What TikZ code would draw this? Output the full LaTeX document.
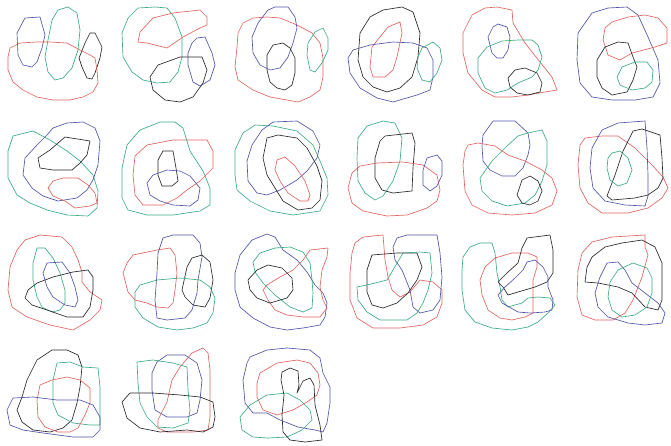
\documentclass[tikz,border=0pt]{standalone}
\definecolor{cred}{RGB}{225,100,95}
\definecolor{cgreen}{RGB}{60,172,128}
\definecolor{cblue}{RGB}{80,85,168}
\definecolor{cblack}{RGB}{40,40,45}
\tikzset{
  loop/.style={line width=0.65pt,line join=round},
  redloop/.style={loop,draw=cred},
  greenloop/.style={loop,draw=cgreen},
  blueloop/.style={loop,draw=cblue},
  blackloop/.style={loop,draw=cblack}
}
\begin{document}
\begin{tikzpicture}[x=1pt,y=-1pt]
\useasboundingbox[fill=white] (0,0) rectangle (671,445);
% ---- Panel 1
\draw[blueloop] (25,18)--(40,17)--(45,35)--(42,48)--(37,62)--(32,67)--(23,65)--(18,55)--(17,33)--cycle;
\draw[greenloop] (58,10)--(68,7)--(77,13)--(80,30)--(78,50)--(72,68)--(63,78)--(55,80)--(48,72)--(45,57)--(48,40)--(52,20)--cycle;
\draw[blackloop] (90,33)--(95,33)--(102,47)--(100,58)--(95,73)--(92,79)--(87,78)--(82,67)--(79,58)--(85,43)--cycle;
\draw[redloop] (10,48)--(20,43)--(37,42)--(50,42)--(67,43)--(80,50)--(90,55)--(95,58)--(97,70)--(98,83)--(93,92)--(83,97)--(70,100)--(53,100)--(37,97)--(23,90)--(13,82)--(8,70)--(8,57)--cycle;
% ---- Panel 2
\draw[greenloop] (138,8)--(155,7)--(167,8)--(175,18)--(182,37)--(182,57)--(178,72)--(170,82)--(157,83)--(143,80)--(132,72)--(123,57)--(122,33)--(128,18)--cycle;
\draw[redloop] (153,18)--(173,13)--(200,10)--(207,17)--(207,25)--(200,28)--(183,37)--(167,48)--(147,43)--(138,42)--(140,32)--cycle;
\draw[blueloop] (197,38)--(205,37)--(212,53)--(215,65)--(210,80)--(200,86)--(193,82)--(188,65)--(188,53)--(192,43)--cycle;
\draw[blackloop] (158,65)--(180,57)--(202,57)--(207,70)--(203,83)--(193,97)--(180,102)--(165,100)--(153,90)--(150,77)--cycle;
% ---- Panel 3
\draw[redloop] (243,23)--(253,18)--(267,17)--(280,18)--(297,25)--(312,33)--(320,43)--(323,58)--(323,77)--(320,90)--(310,97)--(298,102)--(287,100)--(270,97)--(253,90)--(238,80)--(235,67)--(237,47)--(238,33)--cycle;
\draw[blueloop] (268,10)--(275,7)--(288,7)--(295,17)--(297,28)--(293,43)--(288,57)--(280,68)--(270,70)--(260,65)--(253,53)--(252,37)--(258,23)--cycle;
\draw[blackloop] (273,45)--(283,43)--(290,48)--(295,58)--(295,73)--(292,85)--(285,90)--(277,88)--(270,82)--(267,70)--(267,55)--cycle;
\draw[greenloop] (315,32)--(323,28)--(328,38)--(328,50)--(322,63)--(315,72)--(310,70)--(307,55)--(308,43)--cycle;
% ---- Panel 4
\draw[blackloop] (370,17)--(383,10)--(402,7)--(413,12)--(420,33)--(418,57)--(412,77)--(400,88)--(387,92)--(373,87)--(363,77)--(358,60)--(360,33)--cycle;
\draw[redloop] (388,27)--(400,22)--(402,33)--(397,57)--(393,70)--(385,77)--(373,77)--(370,67)--(372,47)--(380,37)--cycle;
\draw[blueloop] (353,50)--(370,45)--(393,42)--(413,43)--(427,48)--(433,60)--(433,77)--(430,90)--(417,95)--(393,102)--(377,98)--(360,88)--(350,73)--(348,58)--cycle;
\draw[greenloop] (422,48)--(433,42)--(440,48)--(442,60)--(437,73)--(430,82)--(422,80)--(417,68)--(418,57)--cycle;
% ---- Panel 5
\draw[redloop] (472,15)--(485,8)--(497,7)--(512,10)--(513,23)--(525,43)--(540,62)--(552,77)--(557,90)--(545,92)--(528,95)--(512,97)--(495,97)--(482,90)--(468,73)--(463,53)--(463,33)--cycle;
\draw[blueloop] (493,27)--(498,24)--(507,27)--(510,37)--(508,50)--(503,58)--(497,58)--(492,53)--(488,37)--cycle;
\draw[greenloop] (487,47)--(502,41)--(518,40)--(532,40)--(538,45)--(542,57)--(538,70)--(532,77)--(518,83)--(507,90)--(495,93)--(485,88)--(478,73)--(478,58)--cycle;
\draw[blackloop] (515,70)--(525,68)--(537,73)--(542,83)--(540,92)--(528,95)--(517,93)--(510,87)--(508,78)--cycle;
% ---- Panel 6
\draw[blueloop] (592,13)--(608,8)--(627,7)--(638,15)--(648,37)--(658,60)--(660,83)--(653,97)--(635,100)--(612,100)--(592,97)--(580,83)--(577,60)--(578,33)--cycle;
\draw[redloop] (612,22)--(628,17)--(645,15)--(658,18)--(667,28)--(667,43)--(655,47)--(632,53)--(620,60)--(608,55)--(603,40)--(605,28)--cycle;
\draw[blackloop] (605,47)--(618,42)--(628,43)--(633,57)--(637,67)--(633,80)--(627,92)--(612,95)--(602,88)--(597,77)--(597,60)--cycle;
\draw[greenloop] (622,67)--(635,62)--(647,62)--(653,70)--(652,82)--(645,88)--(632,90)--(620,85)--(617,77)--cycle;
% ---- Panel 7
\draw[greenloop] (13,136)--(33,131)--(50,140)--(67,151)--(80,161)--(93,175)--(98,191)--(97,208)--(88,216)--(67,215)--(47,210)--(30,203)--(17,195)--(8,178)--(8,151)--cycle;
\draw[blueloop] (53,128)--(67,123)--(83,122)--(95,128)--(100,141)--(98,165)--(93,180)--(87,190)--(77,198)--(58,201)--(43,196)--(32,188)--(23,175)--(25,158)--(37,145)--(47,135)--cycle;
\draw[blackloop] (65,137)--(90,141)--(87,155)--(80,163)--(72,170)--(53,170)--(40,168)--(38,158)--(50,150)--cycle;
\draw[redloop] (53,181)--(63,178)--(78,178)--(88,185)--(95,193)--(97,203)--(90,206)--(75,208)--(65,201)--(53,196)--(48,188)--cycle;
% ---- Panel 8
\draw[greenloop] (140,130)--(160,122)--(175,122)--(183,128)--(190,151)--(203,171)--(210,188)--(210,205)--(200,211)--(173,215)--(147,215)--(128,210)--(122,198)--(122,168)--(127,145)--cycle;
\draw[redloop] (147,145)--(173,140)--(207,140)--(213,151)--(213,168)--(200,181)--(187,190)--(177,198)--(163,205)--(143,205)--(135,195)--(133,175)--(135,156)--cycle;
\draw[blackloop] (163,151)--(173,151)--(176,168)--(178,181)--(172,186)--(162,186)--(158,175)--(158,160)--cycle;
\draw[blueloop] (153,175)--(167,170)--(180,171)--(190,176)--(200,188)--(198,200)--(190,206)--(173,205)--(160,201)--(150,195)--(147,183)--cycle;
% ---- Panel 9
\draw[greenloop] (243,133)--(255,125)--(273,126)--(297,131)--(313,145)--(320,161)--(327,178)--(328,195)--(320,211)--(293,215)--(270,211)--(250,201)--(237,190)--(235,175)--(235,150)--cycle;
\draw[blueloop] (262,130)--(273,122)--(297,121)--(313,131)--(320,145)--(317,158)--(307,171)--(297,180)--(280,190)--(267,195)--(257,193)--(248,181)--(247,161)--(252,145)--cycle;
\draw[blackloop] (267,138)--(278,135)--(297,138)--(307,148)--(317,166)--(322,181)--(320,200)--(312,208)--(298,210)--(283,201)--(275,188)--(267,175)--(263,158)--cycle;
\draw[redloop] (277,160)--(285,157)--(295,166)--(305,181)--(310,195)--(308,201)--(300,201)--(288,193)--(280,181)--(275,170)--cycle;
% ---- Panel 10
\draw[greenloop] (367,126)--(383,121)--(395,123)--(402,138)--(400,161)--(393,181)--(383,196)--(375,200)--(365,193)--(358,181)--(357,158)--(358,138)--cycle;
\draw[blackloop] (385,136)--(412,133)--(415,143)--(413,168)--(412,191)--(393,193)--(382,190)--(375,178)--(375,158)--(380,141)--cycle;
\draw[redloop] (360,166)--(377,163)--(403,162)--(423,165)--(437,175)--(440,190)--(437,201)--(427,208)--(407,215)--(387,216)--(363,211)--(352,203)--(348,188)--(352,173)--cycle;
\draw[blueloop] (427,158)--(437,155)--(442,161)--(442,175)--(437,186)--(430,191)--(423,185)--(423,170)--cycle;
% ---- Panel 11
\draw[blueloop] (493,121)--(515,121)--(528,133)--(530,145)--(528,155)--(523,168)--(515,176)--(502,176)--(490,170)--(483,161)--(482,146)--(483,135)--cycle;
\draw[greenloop] (528,133)--(542,130)--(547,141)--(547,165)--(542,181)--(535,195)--(525,203)--(507,206)--(492,201)--(482,191)--(480,178)--(492,161)--(507,146)--(518,136)--cycle;
\draw[redloop] (468,145)--(478,143)--(495,146)--(508,155)--(525,161)--(542,170)--(552,178)--(557,191)--(552,205)--(535,213)--(512,215)--(488,213)--(472,205)--(465,191)--(463,165)--(465,151)--cycle;
\draw[blackloop] (522,180)--(530,176)--(538,181)--(542,191)--(538,201)--(530,205)--(522,203)--(517,195)--cycle;
% ---- Panel 12
\draw[redloop] (585,138)--(602,136)--(618,136)--(635,148)--(652,165)--(663,177)--(668,188)--(662,198)--(648,208)--(628,213)--(602,213)--(588,203)--(580,188)--(578,165)--(580,145)--cycle;
\draw[blueloop] (602,130)--(618,123)--(645,121)--(647,148)--(648,175)--(648,196)--(645,206)--(625,205)--(605,201)--(593,188)--(590,168)--(592,148)--cycle;
\draw[blackloop] (633,131)--(642,129)--(660,135)--(662,158)--(663,178)--(658,188)--(648,195)--(635,198)--(612,200)--(607,196)--(615,175)--(623,151)--cycle;
\draw[greenloop] (612,153)--(620,151)--(628,158)--(632,170)--(627,183)--(618,186)--(610,180)--(607,168)--(608,158)--cycle;
% ---- Panel 13
\draw[redloop] (25,240)--(40,235)--(62,237)--(72,247)--(78,260)--(82,272)--(82,282)--(90,292)--(102,300)--(100,310)--(90,320)--(73,330)--(50,325)--(27,317)--(12,307)--(8,290)--(10,267)--(17,250)--cycle;
\draw[greenloop] (37,248)--(45,248)--(53,258)--(60,273)--(65,290)--(65,303)--(60,310)--(52,312)--(42,307)--(37,297)--(33,280)--(33,263)--cycle;
\draw[blueloop] (47,263)--(62,262)--(70,273)--(75,287)--(78,300)--(75,307)--(65,305)--(53,297)--(47,287)--(43,273)--cycle;
\draw[blackloop] (37,283)--(53,277)--(73,272)--(88,270)--(93,277)--(93,290)--(90,307)--(83,317)--(67,317)--(47,310)--(32,305)--(25,298)--(28,290)--cycle;
% ---- Panel 14
\draw[redloop] (133,255)--(157,250)--(170,248)--(175,255)--(177,273)--(175,290)--(173,303)--(168,308)--(157,307)--(147,303)--(135,300)--(128,292)--(123,273)--(127,263)--cycle;
\draw[blueloop] (163,238)--(173,235)--(193,235)--(200,243)--(202,257)--(198,280)--(197,293)--(192,310)--(185,318)--(167,320)--(157,318)--(155,300)--(157,273)--(158,253)--cycle;
\draw[blackloop] (192,258)--(202,255)--(210,262)--(213,280)--(210,298)--(205,307)--(193,305)--(185,297)--(182,290)--(187,267)--cycle;
\draw[greenloop] (140,285)--(157,280)--(180,278)--(200,280)--(210,287)--(215,298)--(213,313)--(207,323)--(193,328)--(177,330)--(158,327)--(143,318)--(135,307)--(135,292)--cycle;
% ---- Panel 15
\draw[blueloop] (252,240)--(267,234)--(275,237)--(283,250)--(297,260)--(307,272)--(315,285)--(323,293)--(327,303)--(325,317)--(320,325)--(303,328)--(287,330)--(270,327)--(253,318)--(240,307)--(235,290)--(235,273)--(240,255)--cycle;
\draw[greenloop] (260,253)--(275,248)--(290,247)--(303,252)--(310,263)--(312,280)--(313,293)--(312,308)--(303,312)--(290,307)--(275,295)--(263,283)--(255,272)--(253,262)--cycle;
\draw[redloop] (310,250)--(328,248)--(327,257)--(322,270)--(320,287)--(323,300)--(327,308)--(320,317)--(303,317)--(287,315)--(275,310)--(268,300)--(263,290)--(267,285)--(280,277)--(293,270)--(303,260)--cycle;
\draw[blackloop] (257,270)--(268,265)--(282,268)--(292,278)--(293,290)--(287,298)--(270,303)--(257,298)--(250,290)--(248,280)--cycle;
% ---- Panel 16
\draw[redloop] (363,237)--(383,235)--(385,260)--(388,277)--(392,290)--(400,297)--(410,292)--(420,280)--(433,282)--(442,290)--(442,303)--(437,317)--(423,325)--(400,328)--(373,328)--(357,318)--(350,300)--(350,273)--(352,253)--(355,243)--cycle;
\draw[blueloop] (397,238)--(407,235)--(437,235)--(440,253)--(442,277)--(440,300)--(433,310)--(420,313)--(413,307)--(410,290)--(402,270)--(395,260)--(393,247)--cycle;
\draw[blackloop] (372,255)--(397,253)--(417,253)--(422,267)--(417,280)--(408,293)--(397,303)--(383,308)--(372,305)--(367,292)--(367,270)--cycle;
\draw[greenloop] (403,253)--(420,252)--(430,253)--(432,273)--(428,290)--(423,303)--(417,313)--(407,320)--(380,320)--(367,312)--(358,300)--(357,287)--(367,285)--(387,280)--(393,270)--cycle;
% ---- Panel 17
\draw[greenloop] (470,247)--(480,243)--(492,243)--(495,253)--(497,273)--(500,287)--(502,300)--(508,307)--(522,303)--(528,298)--(538,297)--(550,298)--(555,305)--(548,313)--(538,322)--(528,327)--(512,330)--(492,328)--(475,322)--(465,310)--(462,290)--(462,270)--(463,257)--cycle;
\draw[redloop] (495,258)--(512,253)--(528,253)--(537,257)--(537,267)--(533,280)--(533,300)--(533,313)--(525,317)--(512,320)--(500,318)--(488,310)--(482,295)--(480,280)--(485,267)--cycle;
\draw[blackloop] (527,238)--(550,235)--(553,250)--(553,273)--(547,282)--(535,287)--(518,292)--(508,295)--(503,287)--(498,282)--(507,273)--(518,263)--(522,248)--cycle;
\draw[blueloop] (527,262)--(535,260)--(543,267)--(548,277)--(548,287)--(553,300)--(552,310)--(545,312)--(530,313)--(518,312)--(502,303)--(498,295)--(505,287)--(515,278)--(523,270)--cycle;
% ---- Panel 18
\draw[redloop] (592,242)--(612,237)--(645,235)--(645,247)--(648,255)--(642,277)--(633,300)--(625,313)--(613,320)--(595,320)--(582,315)--(577,297)--(578,270)--(582,253)--cycle;
\draw[blackloop] (605,247)--(622,243)--(642,240)--(655,247)--(662,263)--(662,287)--(662,300)--(658,310)--(645,307)--(632,293)--(618,287)--(598,283)--(585,282)--(587,267)--(592,257)--cycle;
\draw[blueloop] (607,263)--(618,262)--(625,270)--(632,283)--(645,293)--(658,303)--(665,313)--(662,323)--(645,325)--(628,323)--(608,317)--(598,307)--(595,293)--(600,277)--cycle;
\draw[greenloop] (618,270)--(633,263)--(647,268)--(652,278)--(652,293)--(647,307)--(635,315)--(622,317)--(612,310)--(608,297)--(610,282)--cycle;
% ---- Panel 19
\draw[blackloop] (37,360)--(52,350)--(67,350)--(78,355)--(82,367)--(80,387)--(77,403)--(72,420)--(63,428)--(50,432)--(33,430)--(22,422)--(17,410)--(22,397)--(27,380)--cycle;
\draw[greenloop] (57,363)--(70,362)--(83,367)--(98,368)--(100,387)--(100,400)--(100,417)--(100,425)--(90,425)--(73,423)--(58,415)--(53,403)--(53,380)--cycle;
\draw[redloop] (40,385)--(52,380)--(67,377)--(80,380)--(90,388)--(90,403)--(85,415)--(78,428)--(70,432)--(58,432)--(45,427)--(38,417)--(37,400)--cycle;
\draw[blueloop] (13,398)--(33,397)--(57,400)--(80,400)--(93,405)--(100,417)--(100,430)--(93,437)--(73,437)--(43,433)--(23,430)--(10,425)--(7,410)--cycle;
% ---- Panel 20
\draw[redloop] (192,353)--(203,348)--(208,353)--(210,370)--(210,397)--(210,417)--(208,430)--(193,432)--(167,432)--(158,428)--(158,420)--(167,402)--(172,380)--(180,367)--cycle;
\draw[blueloop] (157,362)--(167,355)--(185,355)--(197,363)--(202,380)--(200,400)--(197,413)--(187,417)--(167,417)--(155,410)--(152,390)--(152,373)--cycle;
\draw[greenloop] (137,362)--(153,360)--(173,363)--(187,367)--(188,390)--(190,410)--(188,423)--(173,428)--(157,427)--(147,417)--(140,403)--(138,383)--cycle;
\draw[blackloop] (130,393)--(153,393)--(180,395)--(200,397)--(213,402)--(215,417)--(213,427)--(203,432)--(187,430)--(160,432)--(140,428)--(127,418)--(122,402)--cycle;
% ---- Panel 21
\draw[blueloop] (250,357)--(267,350)--(287,348)--(310,350)--(320,358)--(323,373)--(330,387)--(330,403)--(327,423)--(323,432)--(315,430)--(298,427)--(280,420)--(267,413)--(253,413)--(245,403)--(243,380)--(247,363)--cycle;
\draw[redloop] (260,373)--(277,363)--(297,360)--(310,363)--(318,373)--(320,385)--(317,395)--(307,402)--(293,410)--(277,415)--(263,410)--(257,397)--(257,383)--cycle;
\draw[greenloop] (250,405)--(267,395)--(287,393)--(300,400)--(310,410)--(312,420)--(302,430)--(287,437)--(268,438)--(253,437)--(242,430)--(240,417)--cycle;
\draw[blackloop] (282,372)--(290,368)--(298,371)--(299,385)--(297,393)--(303,381)--(310,378)--(314,385)--(315,405)--(320,425)--(322,440)--(305,442)--(290,440)--(283,432)--(282,415)--(284,395)--(281,380)--cycle;
\end{tikzpicture}
\end{document}
